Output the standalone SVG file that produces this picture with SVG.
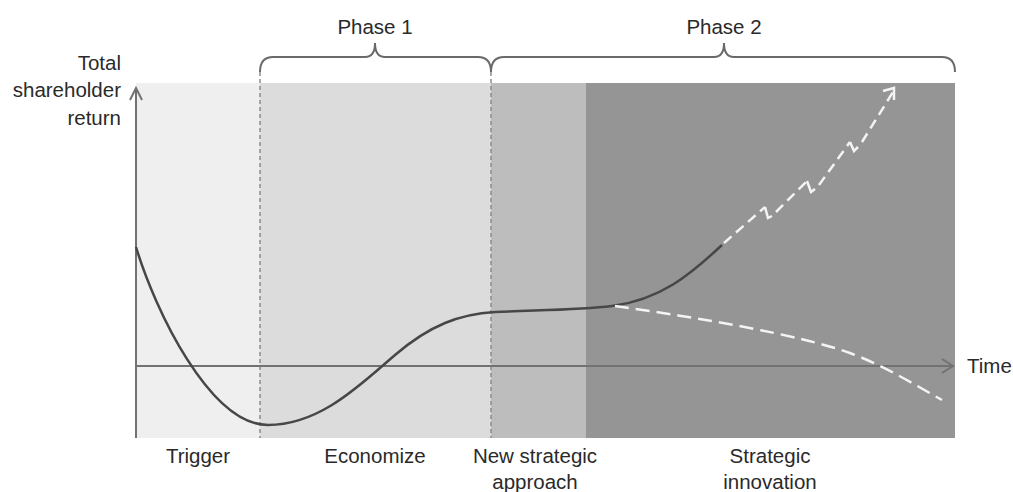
<svg xmlns="http://www.w3.org/2000/svg" width="1013" height="492" viewBox="0 0 1013 492">
<defs>
<style>
text{font-family:"Liberation Sans",Arial,sans-serif;font-size:20.5px;fill:#2a2a2a}
.mid{text-anchor:middle}
.end{text-anchor:end}
.vd{stroke:#8c8c8c;stroke-width:1.5;stroke-dasharray:4 3;fill:none}
.brace{stroke:#6a6a6a;stroke-width:2;fill:none}
.axis{stroke:#727272;stroke-width:2;fill:none}
.curve{stroke:#474747;stroke-width:2.5;fill:none}
.wd{stroke:#f4f4f4;stroke-width:2.5;stroke-dasharray:10 6;fill:none}
.wk{stroke:#f4f4f4;stroke-width:2.5;fill:none}
.wl{stroke:#f4f4f4;stroke-width:2.5;stroke-dasharray:14 7;fill:none}
</style>
</defs>
<rect width="1013" height="492" fill="#ffffff"/>
<g id="panels">
<rect id="p-trigger" x="136" y="83" width="124" height="355" fill="#efefef"/>
<rect id="p-economize" x="260" y="83" width="231" height="355" fill="#dcdcdc"/>
<rect id="p-newapproach" x="491" y="83" width="95" height="355" fill="#bdbdbd"/>
<rect id="p-innovation" x="586" y="83" width="369" height="355" fill="#959595"/>
</g>
<g id="dividers">
<line class="vd" x1="260" y1="72" x2="260" y2="438"/>
<line class="vd" x1="491" y1="72" x2="491" y2="438"/>
</g>
<g id="phase1">
<path class="brace" d="M260,72 Q260,57 273,57 L365,57 Q375,57 375,43 Q375,57 385,57 L478,57 Q491,57 491,72"/>
<text class="mid" x="375" y="34">Phase 1</text>
</g>
<g id="phase2">
<path class="brace" d="M491,72 Q491,57 504,57 L714,57 Q724,57 724,43 Q724,57 734,57 L942,57 Q955,57 955,72"/>
<text class="mid" x="724" y="34">Phase 2</text>
</g>
<g id="axes">
<line class="axis" x1="136" y1="438" x2="136" y2="90"/>
<polyline class="axis" points="130,100 136,88 142,100"/>
<line class="axis" x1="136" y1="366" x2="952" y2="366"/>
<polyline class="axis" points="942,359 953,366 942,373"/>
</g>
<g id="ylabel">
<text class="end" x="121" y="70">Total</text>
<text class="end" x="121" y="97">shareholder</text>
<text class="end" x="121" y="125">return</text>
</g>
<text x="967" y="373">Time</text>
<g id="connectors">
<path class="curve" d="M136,247 C155,310 210,425 268,425 C320,425 360,385 395,355 C430,325 460,314 495,312 C540,310 580,310 612,306 C660,300 690,275 722,245"/>
<line class="wd" x1="724" y1="243" x2="765" y2="207"/>
<polyline class="wk" points="765,207 768,218 772,216"/>
<line class="wd" x1="776" y1="212" x2="807" y2="181"/>
<polyline class="wk" points="807,181 811,192 815,189"/>
<line class="wd" x1="819" y1="185" x2="850" y2="142"/>
<polyline class="wk" points="850,142 854,151 858,147"/>
<line class="wd" x1="862" y1="142" x2="893" y2="92"/>
<polyline points="883,91 894,88 894,100" fill="none" stroke="#f4f4f4" stroke-width="2.5"/>
<path class="wl" d="M615,306 C700,318 800,335 850,353 C885,366 915,385 942,400"/>
</g>
<g id="labels">
<text class="mid" x="198" y="463">Trigger</text>
<text class="mid" x="375" y="463">Economize</text>
<text class="mid" x="535" y="463">New strategic</text>
<text class="mid" x="535" y="489">approach</text>
<text class="mid" x="770" y="463">Strategic</text>
<text class="mid" x="770" y="489">innovation</text>
</g>
</svg>
